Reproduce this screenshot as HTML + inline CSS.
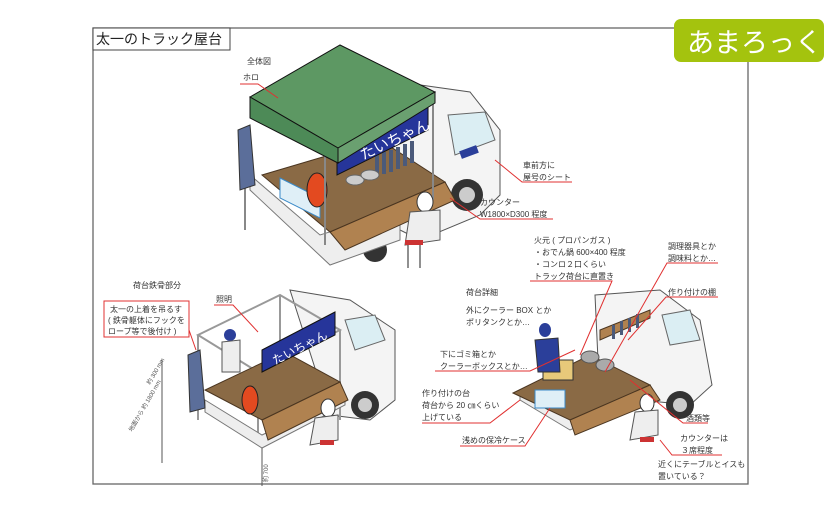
<!DOCTYPE html>
<html><head><meta charset="utf-8"><style>
body{margin:0;background:#fff;}
svg{display:block;font-family:"Liberation Sans","Noto Sans CJK JP",sans-serif;}
.t{font-size:8px;fill:#333;}
.r{stroke:#e03030;stroke-width:1;fill:none;}
</style></head><body>
<svg width="840" height="510" viewBox="0 0 840 510">
<rect width="840" height="510" fill="#fff"/>
<!-- frame -->
<rect x="93" y="28" width="655" height="456" fill="none" stroke="#666" stroke-width="1.3"/>
<rect x="93" y="28" width="137" height="22" fill="#fff" stroke="#444" stroke-width="1"/>
<text x="96" y="44" font-size="14" fill="#222">太一のトラック屋台</text>
<rect x="674" y="19" width="150" height="43" rx="7" fill="#a4c30e"/>
<text x="687" y="52" font-size="27" fill="#fff">あまろっく</text>

<!-- ===== TOP TRUCK ===== -->
<g>
<path d="M385 80 L470 92 L500 130 L500 195 L480 215 L420 240 L390 225 Z" fill="#f4f4f4" stroke="#555"/>
<path d="M448 115 L485 112 L495 140 L455 155 Z" fill="#dbeef3" stroke="#666"/>
<circle cx="467" cy="195" r="16" fill="#333"/><circle cx="467" cy="195" r="8" fill="#ccc"/>
<circle cx="375" cy="250" r="12" fill="#333"/>
<rect x="460" y="148" width="18" height="8" fill="#2b3f9a" transform="rotate(-20 469 152)"/>
<path d="M250 190 L330 265 L400 240 L400 210 L320 235 L250 175 Z" fill="#eee" stroke="#777"/>
<path d="M262 175 L330 232 L445 182 L380 140 Z" fill="#8a6a45" stroke="#4a3520"/>
<path d="M330 232 L345 250 L455 200 L445 182 Z" fill="#b08250" stroke="#4a3520"/>
<path d="M280 178 L320 198 L320 218 L280 198 Z" fill="#dfeff7" stroke="#3a8ac8"/>
<g fill="#4b5a7a"><rect x="375" y="155" width="4" height="22"/><rect x="382" y="152" width="4" height="22"/><rect x="389" y="150" width="4" height="22"/><rect x="396" y="147" width="4" height="22"/><rect x="403" y="144" width="4" height="22"/><rect x="410" y="141" width="4" height="22"/></g>
<g fill="#ccc" stroke="#666"><ellipse cx="355" cy="180" rx="9" ry="5"/><ellipse cx="370" cy="175" rx="9" ry="5"/></g>
<ellipse cx="317" cy="190" rx="10" ry="17" fill="#e34a20" stroke="#222"/>
<line x1="245" y1="130" x2="245" y2="230" stroke="#888" stroke-width="2"/>
<line x1="325" y1="150" x2="325" y2="245" stroke="#888" stroke-width="2"/>
<line x1="433" y1="100" x2="433" y2="200" stroke="#888" stroke-width="2"/>
<path d="M337 148 L428 103 L428 130 L337 175 Z" fill="#26359a" stroke="#111"/>
<text x="363" y="160" font-size="15" fill="#fff" transform="rotate(-25 363 160)">たいちゃん</text>
<path d="M250 97 L340 45 L435 92 L338 148 Z" fill="#5d9863" stroke="#111"/>
<path d="M250 97 L338 148 L338 163 L250 118 Z" fill="#4d8a57" stroke="#111"/>
<path d="M338 148 L435 92 L435 103 L338 163 Z" fill="#6aa070" stroke="#111"/>
<path d="M238 130 L250 125 L255 185 L240 190 Z" fill="#5b6e9a" stroke="#333"/>
<ellipse cx="425" cy="202" rx="8" ry="10" fill="#fff" stroke="#333"/>
<path d="M410 212 L440 210 L440 240 L405 245 Z" fill="#eee" stroke="#555"/>
<rect x="405" y="240" width="18" height="5" fill="#c33"/>
<line x1="408" y1="245" x2="408" y2="268" stroke="#222"/><line x1="420" y1="245" x2="420" y2="268" stroke="#222"/>
</g>
<text class="t" x="247" y="64">全体図</text>
<text class="t" x="243" y="80" fill="#c33">ホロ</text>
<path class="r" d="M240 84 L258 84 L278 98"/>
<text class="t" x="523" y="168">車前方に</text>
<text class="t" x="523" y="180">屋号のシート</text>
<path class="r" d="M572 182 L522 182 L495 160"/>
<text class="t" x="480" y="205">カウンター</text>
<text class="t" x="480" y="217">W1800×D300 程度</text>
<path class="r" d="M553 219 L480 219 L450 198"/>

<!-- ===== BOTTOM LEFT ===== -->
<g>
<path d="M290 290 L350 300 L395 330 L395 400 L370 420 L330 415 Z" fill="#f4f4f4" stroke="#555"/>
<path d="M345 320 L375 315 L385 340 L355 350 Z" fill="#dbeef3" stroke="#666"/>
<circle cx="365" cy="405" r="14" fill="#333"/><circle cx="365" cy="405" r="7" fill="#ccc"/>
<g stroke="#999" stroke-width="2" fill="none">
<path d="M198 335 L280 295 L340 330 L258 372 Z"/>
<line x1="198" y1="335" x2="198" y2="420"/><line x1="258" y1="372" x2="258" y2="445"/><line x1="340" y1="330" x2="340" y2="420"/><line x1="280" y1="295" x2="280" y2="350"/>
</g>
<path d="M205 400 L262 435 L345 395 L345 405 L262 448 L205 412 Z" fill="#eee" stroke="#777"/>
<path d="M205 390 L262 420 L340 382 L285 352 Z" fill="#8a6a45" stroke="#4a3520"/>
<path d="M262 420 L268 440 L348 400 L340 382 Z" fill="#b08250" stroke="#4a3520"/>
<path d="M262 350 L335 312 L335 335 L262 372 Z" fill="#26359a" stroke="#111"/>
<text x="275" y="365" font-size="12" fill="#fff" transform="rotate(-27 275 365)">たいちゃん</text>
<ellipse cx="250" cy="400" rx="8" ry="14" fill="#e34a20" stroke="#222"/>
<path d="M188 355 L200 350 L205 408 L190 412 Z" fill="#5b6e9a" stroke="#333"/>
<ellipse cx="230" cy="335" rx="6" ry="6" fill="#2b3f9a"/>
<path d="M222 342 L240 340 L240 372 L222 372 Z" fill="#eee" stroke="#555"/>
<ellipse cx="328" cy="408" rx="7" ry="9" fill="#fff" stroke="#333"/>
<path d="M315 418 L338 415 L338 440 L310 445 Z" fill="#eee" stroke="#555"/>
<rect x="320" y="440" width="14" height="5" fill="#c33"/>
</g>
<text class="t" x="133" y="288">荷台鉄骨部分</text>
<rect x="104" y="301" width="85" height="36" fill="#fff" stroke="#e03030"/>
<text class="t" x="110" y="312">太一の上着を吊るす</text>
<text class="t" x="108" y="323">( 鉄骨躯体にフックを</text>
<text class="t" x="108" y="334">ロープ等で後付け )</text>
<path class="r" d="M189 330 L196 350"/>
<text class="t" x="216" y="302">照明</text>
<path class="r" d="M214 305 L233 305 L258 332"/>
<line x1="162" y1="360" x2="162" y2="463" stroke="#555"/>
<text x="150" y="385" font-size="6" fill="#555" transform="rotate(-60 150 385)">約 300 mm</text>
<text x="132" y="432" font-size="6" fill="#555" transform="rotate(-60 132 432)">地面から 約 1800 mm</text>
<line x1="262" y1="448" x2="262" y2="486" stroke="#555"/>
<text x="268" y="482" font-size="6" fill="#555" transform="rotate(-90 268 482)">約 700</text>

<!-- ===== BOTTOM RIGHT ===== -->
<g>
<path d="M595 295 L660 290 L700 320 L712 385 L690 405 L640 400 L598 360 Z" fill="#f4f4f4" stroke="#555"/>
<path d="M662 315 L690 310 L700 340 L670 345 Z" fill="#dbeef3" stroke="#666"/>
<circle cx="680" cy="405" r="14" fill="#333"/><circle cx="680" cy="405" r="7" fill="#ccc"/>
<path d="M520 390 L570 420 L650 385 L650 395 L570 430 L520 400 Z" fill="#eee" stroke="#777"/>
<path d="M513 393 L570 420 L650 385 L590 355 Z" fill="#8a6a45" stroke="#4a3520"/>
<path d="M570 420 L575 435 L660 400 L650 385 Z" fill="#b08250" stroke="#4a3520"/>
<path d="M600 330 L650 310 L650 318 L600 340 Z" fill="#b08250" stroke="#4a3520"/>
<g fill="#4b5a7a"><rect x="612" y="325" width="3" height="14"/><rect x="620" y="321" width="3" height="14"/><rect x="628" y="318" width="3" height="14"/><rect x="636" y="314" width="3" height="14"/></g>
<rect x="543" y="360" width="30" height="20" fill="#e7c97a" stroke="#333"/>
<g fill="#aaa" stroke="#555"><ellipse cx="590" cy="357" rx="9" ry="6"/><ellipse cx="605" cy="365" rx="9" ry="6"/></g>
<rect x="535" y="390" width="30" height="18" fill="#dfeff7" stroke="#3a8ac8"/>
<ellipse cx="545" cy="330" rx="6" ry="7" fill="#2b3f9a"/>
<path d="M535 340 L558 338 L560 372 L538 372 Z" fill="#2b3f9a" stroke="#333"/>
<ellipse cx="647" cy="403" rx="7" ry="9" fill="#fff" stroke="#333"/>
<path d="M635 412 L658 410 L658 435 L630 440 Z" fill="#eee" stroke="#555"/>
<rect x="640" y="437" width="14" height="5" fill="#c33"/>
</g>
<text class="t" x="534" y="243">火元 ( プロパンガス )</text>
<text class="t" x="534" y="255">・おでん鍋 600×400 程度</text>
<text class="t" x="534" y="267">・コンロ２口くらい</text>
<text class="t" x="534" y="279">トラック荷台に直置き</text>
<path class="r" d="M530 281 L612 281 L580 355"/>
<text class="t" x="668" y="249">調理器具とか</text>
<text class="t" x="668" y="261">調味料とか…</text>
<path class="r" d="M718 263 L667 263 L605 372"/>
<text class="t" x="668" y="295">作り付けの棚</text>
<path class="r" d="M718 297 L666 297 L628 340"/>
<text class="t" x="466" y="295">荷台詳細</text>
<text class="t" x="466" y="313">外にクーラー BOX とか</text>
<text class="t" x="466" y="325">ポリタンクとか…</text>
<text class="t" x="440" y="357">下にゴミ箱とか</text>
<text class="t" x="440" y="369">クーラーボックスとか…</text>
<path class="r" d="M435 371 L530 371 L575 350"/>
<text class="t" x="422" y="396">作り付けの台</text>
<text class="t" x="422" y="408">荷台から 20 ㎝くらい</text>
<text class="t" x="422" y="420">上げている</text>
<path class="r" d="M422 423 L490 423 L520 400"/>
<text class="t" x="462" y="443">浅めの保冷ケース</text>
<path class="r" d="M460 446 L525 446 L550 408"/>
<text class="t" x="686" y="421">酒類等</text>
<path class="r" d="M708 423 L683 423 L630 380"/>
<text class="t" x="680" y="441">カウンターは</text>
<text class="t" x="681" y="453">３席程度</text>
<path class="r" d="M722 455 L672 455 L660 440"/>
<text class="t" x="658" y="467">近くにテーブルとイスも</text>
<text class="t" x="658" y="479">置いている？</text>
</svg>
</body></html>
